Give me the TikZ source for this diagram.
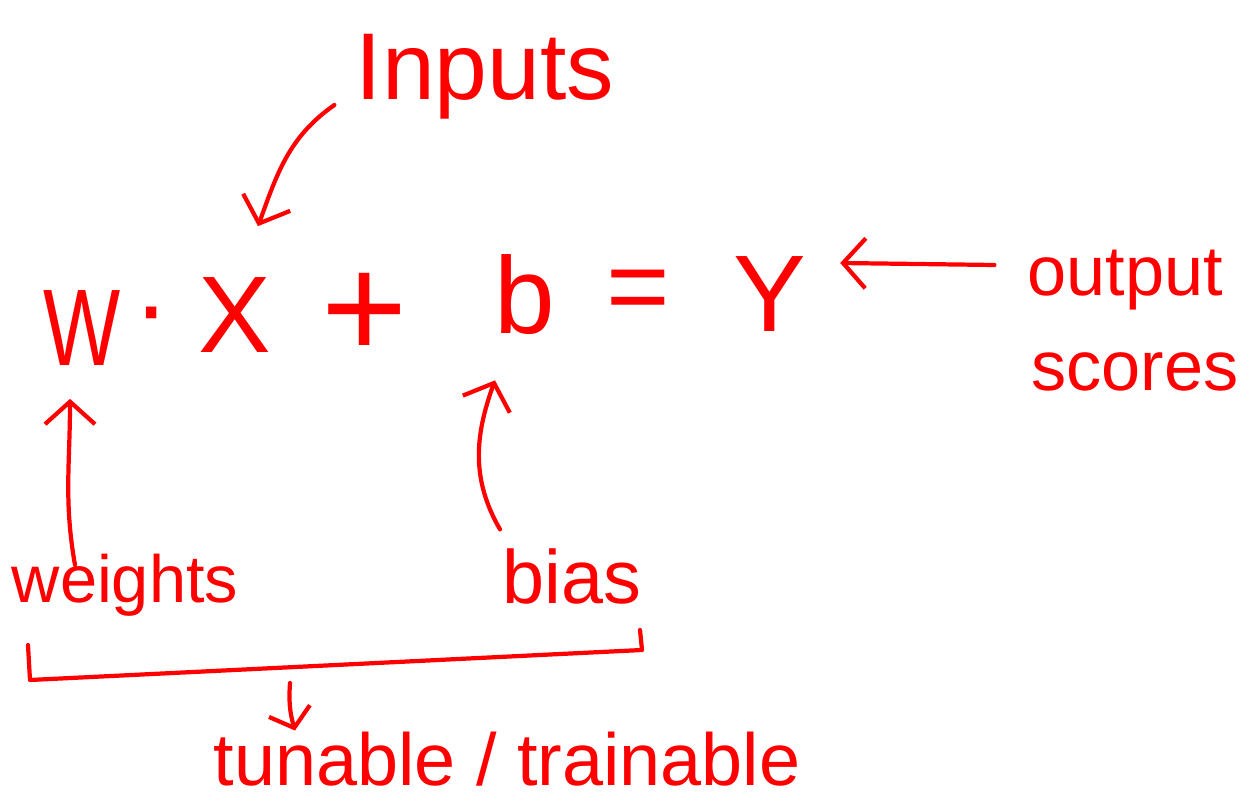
\documentclass[tikz,border=0pt]{standalone}
\usepackage{fontspec}
\setmainfont{Liberation Sans}
\usetikzlibrary{arrows.meta,calc}
\definecolor{ink}{HTML}{FF0000}
\begin{document}
\begin{tikzpicture}[
    sym/.style={text=ink, inner sep=2pt, font=\fontsize{62}{62}\selectfont},
    lbl/.style={text=ink, inner sep=2pt, font=\fontsize{40}{40}\selectfont},
    pen/.style={draw=ink, line width=2.4pt, line cap=round, line join=round},
    arr/.style={pen, -{Straight Barb[length=0.45cm,width=1.0cm]}}
]
    \useasboundingbox (0,0) rectangle (24.94,16.08);

    % formula
    \node[sym] (W) at (1.64,9.52) {\scalebox{0.75}[1]{W}};
    \node[sym] (dot) at (3.04,9.58) {·};
    \node[sym] (X) at (4.7,9.78) {X};
    \node[sym, font=\fontsize{84}{84}\selectfont] (plus) at (7.3,9.76) {+};
    \node[sym] (b) at (10.5,10.18) {b};
    \node[sym] (eq) at (12.76,10.14) {=};
    \node[sym] (Y) at (15.4,10.2) {Y};

    % labels
    \node[lbl, font=\fontsize{54}{54}\selectfont] (ins) at (9.7,14.54) {Inputs};
    \node[lbl] (out) at (22.5,10.48) {output};
    \node[lbl] (sc) at (22.7,8.64) {scores};
    \node[lbl, font=\fontsize{38}{38}\selectfont] (wt) at (2.5,4.38) {weights};
    \node[lbl, font=\fontsize{43}{43}\selectfont] (bs) at (11.44,4.56) {bias};
    \node[lbl, font=\fontsize{42}{42}\selectfont] (tun) at (10.14,0.9) {tunable / trainable};

    % arrows
    \draw[arr] ([xshift=-0.35cm,yshift=-0.56cm]ins.west) to[out=215,in=70]
        ([xshift=0.46cm,yshift=0.95cm]X.north);
    \draw[arr] ([xshift=-0.58cm,yshift=0.3cm]out.west) --
        ([xshift=0.6cm,yshift=0.62cm]Y.east);
    \draw[arr] ([xshift=-1.0cm,yshift=-0.3cm]wt.north) to[out=100,in=270]
        ([xshift=-0.24cm,yshift=-0.59cm]W.south);
    \draw[arr] ([xshift=-1.44cm,yshift=0.3cm]bs.north) to[out=120,in=250]
        ([xshift=-0.6cm,yshift=-0.83cm]b.south);

    % bracket
    \coordinate (brl) at (0.56,3.18);
    \coordinate (brr) at (12.8,3.48);
    \coordinate (brk) at (5.8,2.42);
    \draw[pen] (brl) -- (0.6,2.48) -- (12.84,3.08) -- (brr);
    \draw[arr, -{Straight Barb[length=0.35cm,width=0.85cm]}] (brk) to[bend right=10]
        ($(brk |- tun.north)+(0.1,-0.05)$);
\end{tikzpicture}
\end{document}
